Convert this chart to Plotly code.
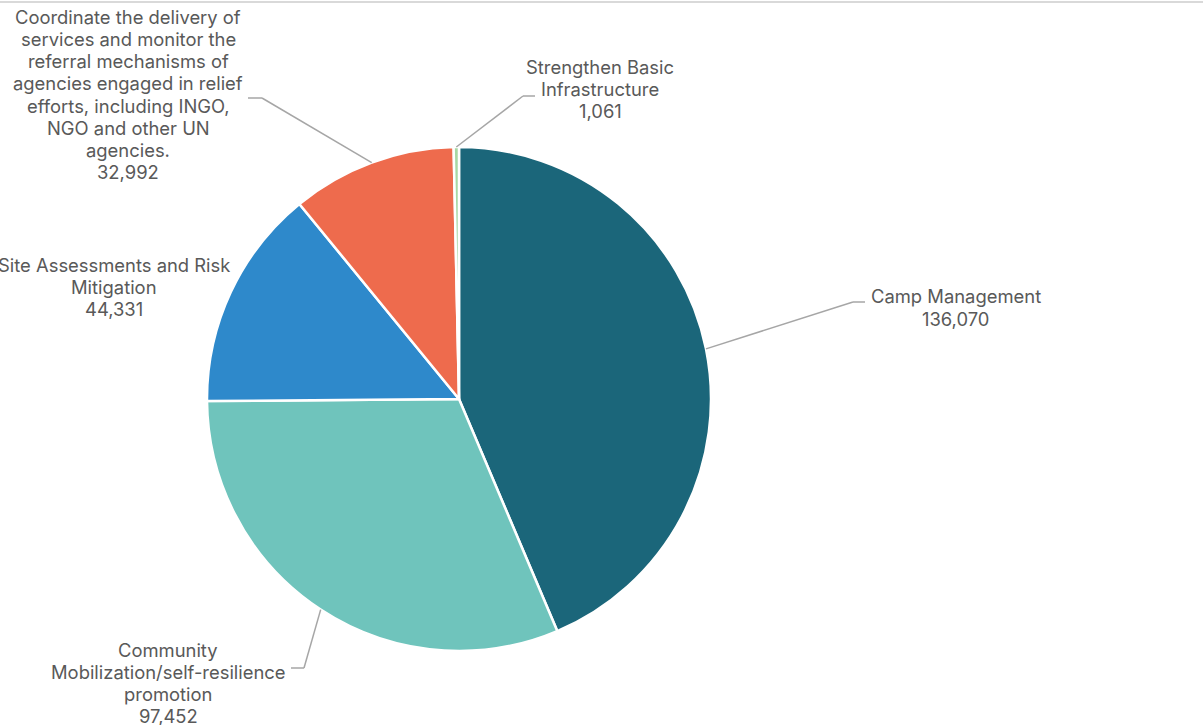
import math
import plotly.graph_objects as go

# ---- data ----
categories = [
    "Camp Management",
    "Community Mobilization/self-resilience promotion",
    "Site Assessments and Risk Mitigation",
    "Coordinate the delivery of services and monitor the referral mechanisms of agencies engaged in relief efforts, including INGO, NGO and other UN agencies.",
    "Strengthen Basic Infrastructure",
]
values = [136070, 97452, 44331, 32992, 1061]
label_lines = [
    ["Camp Management"],
    ["Community", "Mobilization/self-resilience", "promotion"],
    ["Site Assessments and Risk", "Mitigation"],
    ["Coordinate the delivery of", "services and monitor the", "referral mechanisms of",
     "agencies engaged in relief", "efforts, including INGO,", "NGO and other UN", "agencies."],
    ["Strengthen Basic", "Infrastructure"],
]
colors = ["#1b667a", "#6fc4bc", "#2e89cb", "#ee6b4d", "#a8d8a4"]

# ---- layout (pixels) ----
W, H = 1203, 725
CX, CY, R = 459, 399, 252
LINE_H = 22.2
FONT_SIZE = 18.4
# label text centres
label_pos = [(956, 307.5), (168, 683), (114, 287), (128, 94.5), (600, 89)]
# leader line elbow/end points (None = no leader)
leaders = [((853, 302), (865, 302)),
           ((304, 668), (291, 668)),
           None,
           ((262, 98), (248, 98)),
           ((523, 96), (535, 96))]

def px(x):
    return x / W

def py(y):
    return 1 - y / H

fig = go.Figure(go.Pie(
    labels=categories,
    values=values,
    sort=False,
    direction="clockwise",
    rotation=0,
    textinfo="none",
    hoverinfo="label+value",
    marker=dict(colors=colors, line=dict(color="white", width=2.5)),
    domain=dict(x=[px(CX - R), px(CX + R)], y=[py(CY + R), py(CY - R)]),
    showlegend=False,
))

total = sum(values)
cum = 0
shapes = [dict(type="line", xref="paper", yref="paper", x0=0, x1=1,
               y0=py(2), y1=py(2), line=dict(color="#d9d9d9", width=2))]
annotations = []
for i, v in enumerate(values):
    mid = (cum + v / 2) / total * 2 * math.pi
    cum += v
    sx = CX + R * math.sin(mid)
    sy = CY - R * math.cos(mid)
    if leaders[i] is not None:
        (ex, ey), (tx, ty) = leaders[i]
        shapes.append(dict(type="line", xref="paper", yref="paper",
                           x0=px(sx), y0=py(sy), x1=px(ex), y1=py(ey),
                           line=dict(color="#a6a6a6", width=1.5)))
        shapes.append(dict(type="line", xref="paper", yref="paper",
                           x0=px(ex), y0=py(ey), x1=px(tx), y1=py(ty),
                           line=dict(color="#a6a6a6", width=1.5)))
    lines = label_lines[i] + [f"{v:,}"]
    n = len(lines)
    lx, ly = label_pos[i]
    for k, t in enumerate(lines):
        yk = ly + (k - (n - 1) / 2) * LINE_H
        annotations.append(dict(x=px(lx), y=py(yk), xref="paper", yref="paper",
                                text=t, showarrow=False, xanchor="center",
                                yanchor="middle", align="center",
                                font=dict(family="Inter", size=FONT_SIZE, color="#595959")))

fig.update_layout(
    width=W, height=H,
    margin=dict(l=0, r=0, t=0, b=0),
    paper_bgcolor="white",
    plot_bgcolor="white",
    shapes=shapes,
    annotations=annotations,
)

fig.write_html("out.html", config={"displayModeBar": False},
               post_script="document.body.style.margin='0';document.body.style.overflow='hidden';")
